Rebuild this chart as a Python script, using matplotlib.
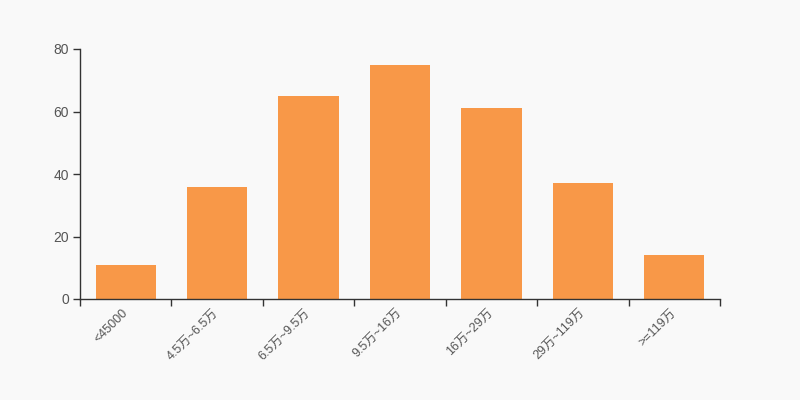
import matplotlib
matplotlib.use("Agg")
import matplotlib.pyplot as plt
import numpy as np

plt.rcParams['font.family'] = ['Liberation Sans', 'Noto Sans CJK SC', 'DejaVu Sans']

# 收入区间分布
categories = ["<45000", "4.5万~6.5万", "6.5万~9.5万", "9.5万~16万", "16万~29万", "29万~119万", ">=119万"]
counts = [11, 36, 65, 75, 61, 37, 14]

bg = '#f9f9f9'
txt = '#555555'
fig = plt.figure(figsize=(8, 4), dpi=100, facecolor=bg)
ax = fig.add_axes([0.1, 0.2525, 0.8, 0.625], facecolor=bg)

x = np.arange(len(categories))
ax.bar(x, counts, width=0.66, color='#f89848', zorder=2)

ax.set_xlim(-0.5, len(categories) - 0.5)
ax.set_ylim(0, 80)
ax.set_yticks([0, 20, 40, 60, 80])

# 标签在类目中心，刻度线在类目边界
ax.set_xticks(x)
ax.set_xticklabels(categories, rotation=45, ha='right', va='center', rotation_mode='anchor')
ax.set_xticks(np.arange(-0.5, len(categories)), minor=True)
ax.tick_params(axis='x', which='major', length=0, pad=9, labelsize=9, labelcolor=txt)
ax.tick_params(axis='x', which='minor', length=5, width=1, color='#333333')
ax.tick_params(axis='y', length=5, width=1, color='#333333', labelsize=10,
               labelcolor=txt, pad=3)

for s in ['top', 'right']:
    ax.spines[s].set_visible(False)
for s in ['left', 'bottom']:
    ax.spines[s].set_color('#333333')
    ax.spines[s].set_linewidth(1)

plt.savefig("out.png", dpi=100, facecolor=bg)
